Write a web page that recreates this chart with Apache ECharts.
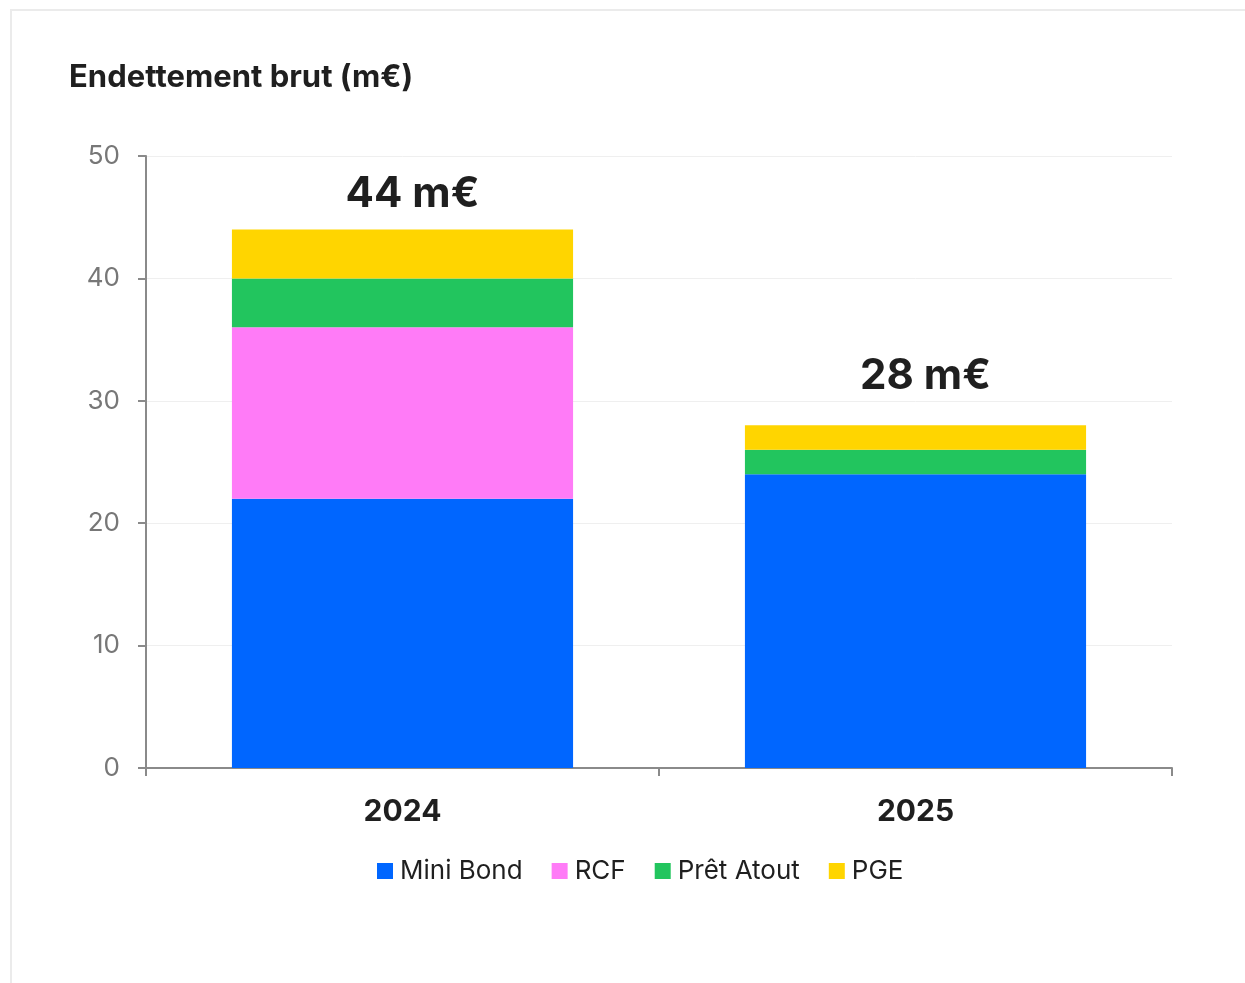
<!DOCTYPE html>
<html><head><meta charset="utf-8">
<script src="https://cdn.jsdelivr.net/npm/echarts@6/dist/echarts.min.js"></script>
<style>
html,body{margin:0;padding:0;background:#fff;width:1245px;height:983px;overflow:hidden;}
#card{position:absolute;left:10px;top:9px;width:1260px;height:1000px;border:2px solid #ebebeb;box-sizing:border-box;}
#c{position:absolute;left:0;top:0;width:1245px;height:983px;}
</style></head>
<body><div id="card"></div><div id="c"></div>
<script>
const categories = ['2024', '2025'];
const miniBond = [22, 24];
const rcf = [14, 0];
const pretAtout = [4, 2];
const pge = [4, 2];
const yTicks = [0, 10, 20, 30, 40, 50];
const labelDistances = [14, 28];

const totals = categories.map((_, i) => miniBond[i] + rcf[i] + pretAtout[i] + pge[i]);
const FONT = 'Inter, "Noto Sans", sans-serif';

const chart = echarts.init(document.getElementById('c'), null, {renderer: 'canvas'});
const barW = '66.5%';
function s(name, data, color) {
  return {name, type: 'bar', stack: 'debt', data, barWidth: barW, itemStyle: {color}, emphasis: {disabled: true}};
}
const pgeSeries = s('PGE', pge.map((v, i) => ({
  value: v,
  label: {show: true, position: 'top', distance: labelDistances[i], offset: [10, 0],
    formatter: () => totals[i] + ' m€', fontSize: 42, fontWeight: 'bold', color: '#1f1f1f', fontFamily: FONT}
})), '#FFD500');

chart.setOption({
  animation: false,
  title: {text: 'Endettement brut (m€)', left: 64, top: 57,
    textStyle: {fontFamily: FONT, fontSize: 31, fontWeight: 'bold', color: '#1f1f1f'}},
  grid: {left: 146, right: 73, top: 156, bottom: 215},
  legend: {bottom: 94, left: 372, itemWidth: 16, itemHeight: 16, itemGap: 29, icon: 'rect',
    textStyle: {fontFamily: FONT, fontSize: 26, color: '#1f1f1f', padding: [0,0,0,2]},
    data: ['Mini Bond', 'RCF', 'Prêt Atout', 'PGE']},
  xAxis: {type: 'category', data: categories,
    axisLine: {lineStyle: {color: '#8a8a8a', width: 2}},
    axisTick: {show: true, length: 8, lineStyle: {color: '#8a8a8a', width: 2}},
    axisLabel: {margin: 29, fontFamily: FONT, fontSize: 30, fontWeight: 'bold', color: '#1f1f1f'}},
  yAxis: {type: 'value', min: yTicks[0], max: yTicks[yTicks.length-1], interval: yTicks[1]-yTicks[0],
    axisLine: {show: true, lineStyle: {color: '#8a8a8a', width: 2}},
    axisTick: {show: true, length: 8, lineStyle: {color: '#8a8a8a', width: 2}},
    splitLine: {lineStyle: {color: '#efefef', width: 1}},
    axisLabel: {margin: 26, fontFamily: FONT, fontSize: 26, color: '#777'}},
  series: [
    s('Mini Bond', miniBond, '#0066FF'),
    s('RCF', rcf, '#FF7BF7'),
    s('Prêt Atout', pretAtout, '#22C55E'),
    pgeSeries
  ]
});
</script></body></html>
